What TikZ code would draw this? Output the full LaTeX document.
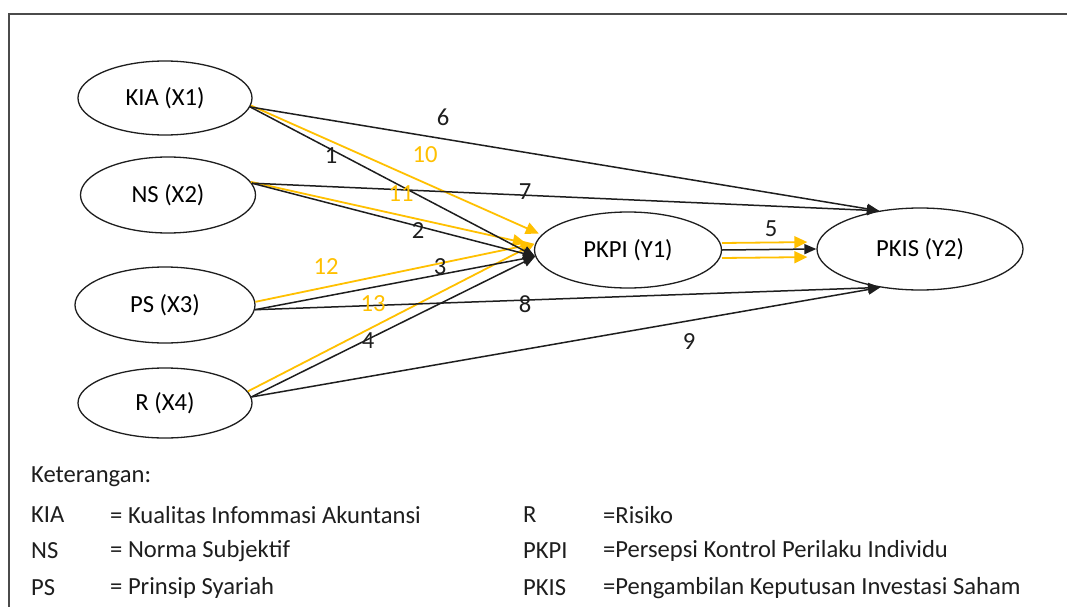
\documentclass[tikz,border=0pt]{standalone}
\usepackage{fontspec}
\setmainfont{Carlito}
\usetikzlibrary{arrows.meta,shapes.geometric}
\definecolor{gold}{RGB}{255,192,0}
\definecolor{ink}{RGB}{30,30,30}
\begin{document}
\begin{tikzpicture}[x=1pt,y=-1pt,
  font=\fontsize{24.6}{28}\selectfont,
  ell/.style={draw=ink, ellipse, line width=1.3pt, inner sep=0pt, fill=white},
  blk/.style={draw=ink, line width=1.5pt, -{Triangle[length=12pt,width=10pt]}},
  ylw/.style={draw=gold, line width=1.8pt, -{Triangle[length=13pt,width=12pt]}},
  lbl/.style={inner sep=0pt, text=ink},
  ylbl/.style={inner sep=0pt, text=gold},
  leg/.style={anchor=west, inner sep=0pt, text=ink}]
\useasboundingbox (0,0) rectangle (1067,607);
\fill[white] (0,0) rectangle (1067,607);
\draw[line width=2pt, ink!80] (9,607) -- (9,14) -- (1067,14);

\node[ell, minimum width=174pt, minimum height=74pt] (kia) at (165,98) {KIA (X1)};
\node[ell, minimum width=175pt, minimum height=76pt] (ns) at (168,195) {NS (X2)};
\node[ell, minimum width=180pt, minimum height=76pt] (ps) at (165,305) {PS (X3)};
\node[ell, minimum width=174pt, minimum height=70pt] (r) at (165,403) {R (X4)};
\node[ell, minimum width=187pt, minimum height=76pt] (pkpi) at (628,250) {PKPI (Y1)};
\node[ell, minimum width=206pt, minimum height=82pt] (pkis) at (920,249) {PKIS (Y2)};

% yellow (indirect) paths
\draw[ylw, shorten >=3pt] (kia.-5) -- (pkpi.170);
\draw[ylw, shorten >=9pt] (ns.9) -- (pkpi.177);
\draw[ylw, shorten >=1pt] (ps.2) -- (pkpi.176);
\draw[ylw, shorten >=1pt] (r.8) -- (pkpi.176);
\draw[ylw, shorten >=9pt] ([yshift=7pt]pkpi.east) -- ([yshift=7pt]pkis.west);
\draw[ylw, shorten >=9pt] ([yshift=-8pt]pkpi.east) -- ([yshift=-8pt]pkis.west);

% black (direct) paths
\draw[blk] (kia.-6) -- (pkpi.184);
\draw[blk] (ns.8) -- (pkpi.184);
\draw[blk] (ps.-3) -- (pkpi.184);
\draw[blk] (r.4) -- (pkpi.184);
\draw[blk] (pkpi.east) -- (pkis.west);
\draw[blk] (kia.-6) -- (pkis.137);
\draw[blk] (ns.8) -- (pkis.137);
\draw[blk] (ps.-3) -- (pkis.-136);
\draw[blk] (r.4) -- (pkis.-136);

% labels
\node[lbl] (l6) at (443,117) {6};
\node[ylbl] (l10) at (425,155) {10};
\node[lbl] (l1) at (331,156) {1};
\node[ylbl] (l11) at (401,194) {11};
\node[lbl] (l7) at (525,192) {7};
\node[lbl] (l2) at (418,231) {2};
\node[lbl] (l5) at (771,229) {5};
\node[ylbl] (l12) at (326,267) {12};
\node[lbl] (l3) at (440,267) {3};
\node[ylbl] (l13) at (373,304) {13};
\node[lbl] (l8) at (525,304) {8};
\node[lbl] (l4) at (368,341) {4};
\node[lbl] (l9) at (689,342) {9};

% legend
\node[leg] (k) at (31,477) {Keterangan:};
\node[leg] (a1) at (31,515) {KIA};
\node[leg] (b1) at (110,515) {= Kualitas Infommasi Akuntansi};
\node[leg] (a2) at (31,551) {NS};
\node[leg] (b2) at (110,551) {= Norma Subjektif};
\node[leg] (a3) at (31,588) {PS};
\node[leg] (b3) at (110,588) {= Prinsip Syariah};
\node[leg] (c1) at (523,515) {R};
\node[leg] (d1) at (603,515) {=Risiko};
\node[leg] (c2) at (523,551) {PKPI};
\node[leg] (d2) at (603,551) {=Persepsi Kontrol Perilaku Individu};
\node[leg] (c3) at (523,588) {PKIS};
\node[leg] (d3) at (603,588) {=Pengambilan Keputusan Investasi Saham};
\end{tikzpicture}
\end{document}
